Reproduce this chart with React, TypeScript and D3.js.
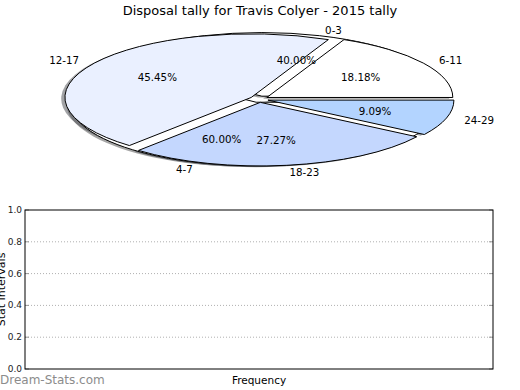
import React from "react";
import * as d3 from "d3";

// outer pie: disposal ranges
const labels1 = ["6-11", "12-17", "18-23", "24-29"];
const values1 = [2, 5, 3, 1];
const colors1 = ["#ffffff", "#eaf0ff", "#c4d7fe", "#b3d4ff"];

// second pie drawn under the first (white)
const labels2 = ["0-3", "4-7"];
const values2 = [2, 3];
const colors2 = ["#ffffff", "#ffffff"];

const yTicks = [0, 0.2, 0.4, 0.6, 0.8, 1.0];

const W = 520;
const H = 390;
const cx = 259;
const cy = 99.2;
const rx = 186;
const ry = 63.6;
const explode = 0.05;
const font = "DejaVu Sans, sans-serif";

type Slice = d3.PieArcDatum<number>;

const pie = d3
  .pie<number>()
  .sort(null)
  .startAngle(Math.PI / 2)
  .endAngle(Math.PI / 2 - 2 * Math.PI);

const arc = d3.arc<Slice>().innerRadius(0).outerRadius(1);

const mid = (d: Slice) => (d.startAngle + d.endAngle) / 2;
// unit-circle direction (screen y down)
const dir = (d: Slice) => [Math.sin(mid(d)), -Math.cos(mid(d))];

const Wedge = ({ d, fill, stroke, dx = 0, dy = 0, opacity = 1 }: any) => {
  const [ux, uy] = dir(d);
  return (
    <g
      transform={`translate(${cx},${cy}) scale(${rx},${ry}) translate(${
        ux * explode + dx
      },${uy * explode + dy})`}
    >
      <path
        d={arc(d) || ""}
        fill={fill}
        fillOpacity={opacity}
        stroke={stroke}
        strokeWidth={stroke === "none" ? 0 : 1}
        vectorEffect="non-scaling-stroke"
        strokeLinejoin="round"
      />
    </g>
  );
};

const shadowColor = (c: string) => {
  const rgb = d3.rgb(c);
  return d3.rgb(rgb.r * 0.3, rgb.g * 0.3, rgb.b * 0.3).formatHex();
};

const Labels = ({ arcs, labels }: { arcs: Slice[]; labels: string[] }) => (
  <g fontFamily={font} fontSize={10.3} fill="#000">
    {arcs.map((d, i) => {
      const [ux, uy] = dir(d);
      const lx = cx + rx * ux * (1.1 + explode);
      const ly = cy + ry * uy * (1.1 + explode);
      const px = cx + rx * ux * (0.6 + explode);
      const py = cy + ry * uy * (0.6 + explode);
      const share = (d.value / d3.sum(arcs, (a) => a.value)) * 100;
      return (
        <g key={i}>
          <text
            x={lx}
            y={ly}
            textAnchor={ux > 0 ? "start" : "end"}
            dominantBaseline="central"
          >
            {labels[i]}
          </text>
          <text x={px} y={py} textAnchor="middle" dominantBaseline="central">
            {share.toFixed(2) + "%"}
          </text>
        </g>
      );
    })}
  </g>
);

export default function App() {
  const arcs1 = pie(values1);
  const arcs2 = pie(values2);

  const left = 25;
  const right = 493;
  const top = 210;
  const bottom = 369;
  const y = d3.scaleLinear().domain([0, 1]).range([bottom, top]);

  return (
    <svg
      width={W}
      height={H}
      style={{ position: "absolute", left: 0, top: 0, background: "#fff" }}
    >
      <text
        x={260}
        y={10}
        textAnchor="middle"
        dominantBaseline="central"
        fontFamily={font}
        fontSize={13}
      >
        Disposal tally for Travis Colyer - 2015 tally
      </text>

      {/* shadows */}
      {arcs2.map((d, i) => (
        <Wedge
          key={"s2" + i}
          d={d}
          fill={shadowColor(colors2[i])}
          stroke="none"
          dx={-0.02}
          dy={0.02}
          opacity={0.5}
        />
      ))}
      {arcs1.map((d, i) => (
        <Wedge
          key={"s1" + i}
          d={d}
          fill={shadowColor(colors1[i])}
          stroke="none"
          dx={-0.02}
          dy={0.02}
          opacity={0.5}
        />
      ))}
      {arcs2.map((d, i) => (
        <Wedge key={"w2" + i} d={d} fill={colors2[i]} stroke="#000" />
      ))}
      {arcs1.map((d, i) => (
        <Wedge key={"w1" + i} d={d} fill={colors1[i]} stroke="#000" />
      ))}
      <Labels arcs={arcs1} labels={labels1} />
      <Labels arcs={arcs2} labels={labels2} />

      {/* empty bar axes */}
      <g fontFamily={font} fontSize={9}>
        {yTicks.map((t) => (
          <g key={t}>
            {t > 0 && t < 1 && (
              <line
                x1={left}
                x2={right}
                y1={y(t)}
                y2={y(t)}
                stroke="#b0b0b0"
                strokeDasharray="1,2"
              />
            )}
            <line x1={left} x2={left + 4} y1={y(t)} y2={y(t)} stroke="#999" />
            <line x1={right - 4} x2={right} y1={y(t)} y2={y(t)} stroke="#999" />
            <text
              x={left - 3}
              y={y(t)}
              textAnchor="end"
              dominantBaseline="central"
              fill="#222"
            >
              {t.toFixed(1)}
            </text>
          </g>
        ))}
        <rect
          x={left}
          y={top}
          width={right - left}
          height={bottom - top}
          fill="none"
          stroke="#000"
        />
      </g>
      <text
        x={259}
        y={380}
        textAnchor="middle"
        dominantBaseline="central"
        fontFamily={font}
        fontSize={10.5}
      >
        Frequency
      </text>
      <text
        transform={`translate(5,${(top + bottom) / 2}) rotate(-90)`}
        textAnchor="middle"
        fontFamily={font}
        fontSize={11}
      >
        Stat Intervals
      </text>
      <text
        x={0}
        y={380}
        dominantBaseline="central"
        fontFamily={font}
        fontSize={12}
        fill="#8c8c8c"
      >
        Dream-Stats.com
      </text>
    </svg>
  );
}
